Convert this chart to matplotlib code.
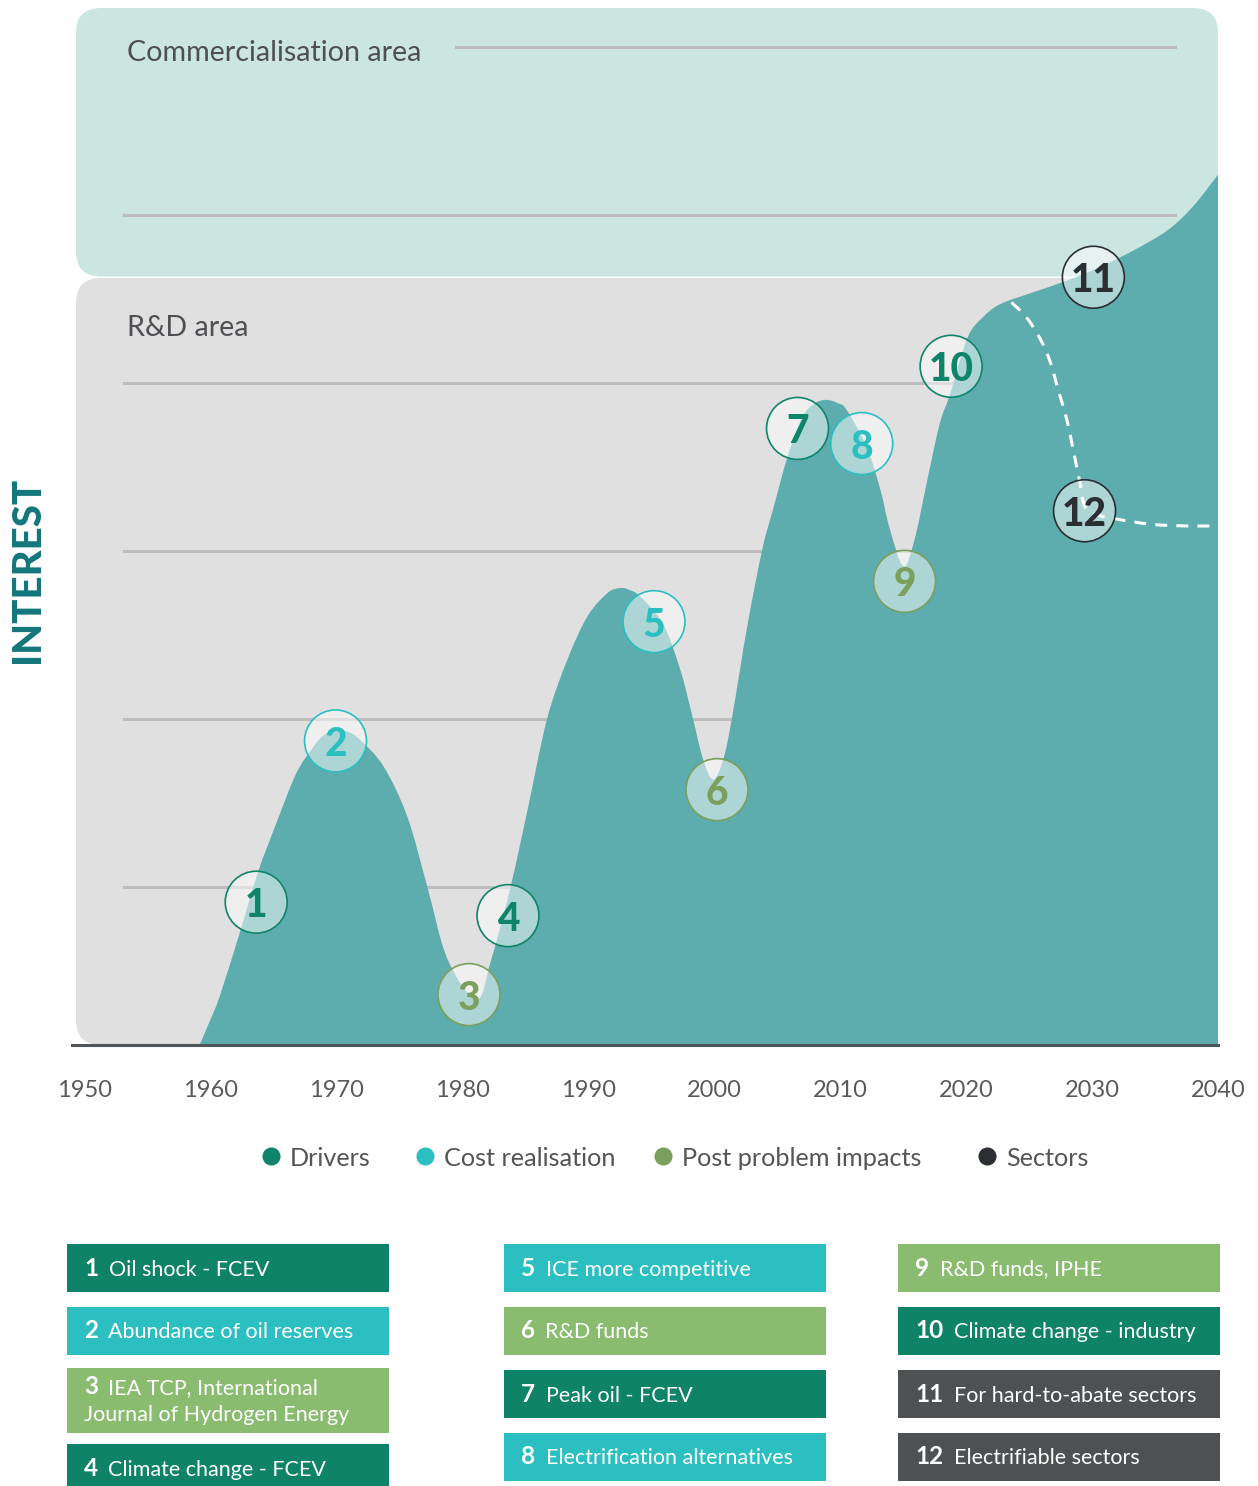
import matplotlib
import numpy as np

matplotlib.use("Agg")
import matplotlib.pyplot as plt  # noqa: E402
from matplotlib.patches import FancyBboxPatch, PathPatch, Rectangle  # noqa: E402
from matplotlib.path import Path  # noqa: E402

plt.rcParams["font.family"] = ["Lato", "DejaVu Sans"]

W, H = 1258, 1486

# ---- interest curve (year, relative interest) ----
YEARS = [1959.1, 1959.9, 1960.7, 1962.3, 1963.7, 1965.3, 1966.8, 1968.1, 1968.9,
         1970.0, 1971.0, 1971.8, 1973.7, 1975.6, 1977.2, 1978.8, 1981.1, 1982.2,
         1983.8, 1985.1, 1986.7, 1988.3, 1989.9, 1991.5, 1992.5, 1993.2, 1994.1,
         1995.9, 1997.3, 1998.3, 1999.1, 1999.9, 2000.7, 2001.4, 2002.6, 2003.8,
         2004.7, 2005.8, 2007.0, 2008.0, 2008.9, 2009.8, 2010.5, 2012.1, 2013.2,
         2013.9, 2015.0, 2015.9, 2016.9, 2017.9, 2018.7, 2020.1, 2021.3, 2022.7,
         2025.3, 2028.0, 2030.6, 2033.3, 2036.0, 2038.0, 2040.0]
INTEREST = [0.00, 0.14, 0.29, 0.67, 1.02, 1.34, 1.62, 1.77, 1.84,
            1.88, 1.86, 1.82, 1.66, 1.36, 0.94, 0.51, 0.27, 0.49,
            0.94, 1.38, 1.94, 2.29, 2.55, 2.69, 2.72, 2.71, 2.67,
            2.51, 2.23, 1.94, 1.70, 1.58, 1.70, 1.95, 2.49, 2.95,
            3.20, 3.50, 3.74, 3.82, 3.84, 3.82, 3.78, 3.56, 3.30,
            3.08, 2.85, 3.01, 3.36, 3.70, 3.87, 4.21, 4.33, 4.41,
            4.48, 4.55, 4.63, 4.73, 4.85, 4.99, 5.18]

# electrifiable-sectors branch (dashed)
SPLIT_YEARS = [2023.6, 2024.8, 2025.9, 2026.7, 2027.3, 2028.0, 2028.5, 2029.0,
               2029.4, 2030.2, 2032.0, 2034.6, 2037.2, 2040.0]
SPLIT_INTEREST = [4.42, 4.33, 4.20, 4.06, 3.90, 3.72, 3.54, 3.36,
                  3.21, 3.16, 3.13, 3.10, 3.09, 3.09]

# numbered events on the curve
EVENT_NUMBERS = list(range(1, 13))
EVENT_YEARS = [1963.6, 1969.9, 1980.5, 1983.6, 1995.2, 2000.2,
               2006.6, 2011.7, 2015.1, 2018.8, 2030.1, 2029.4]
EVENT_INTEREST = [0.85, 1.81, 0.30, 0.77, 2.52, 1.52,
                  3.67, 3.58, 2.76, 4.04, 4.57, 3.18]
EVENT_CATEGORY = ["Drivers", "Cost realisation", "Post problem impacts",
                  "Drivers", "Cost realisation", "Post problem impacts",
                  "Drivers", "Cost realisation", "Post problem impacts",
                  "Drivers", "Sectors", "Sectors"]
EVENT_LABELS = ["Oil shock - FCEV", "Abundance of oil reserves",
                "IEA TCP, International\nJournal of Hydrogen Energy",
                "Climate change - FCEV", "ICE more competitive", "R&D funds",
                "Peak oil - FCEV", "Electrification alternatives",
                "R&D funds, IPHE", "Climate change - industry",
                "For hard-to-abate sectors", "Electrifiable sectors"]

CATEGORIES = ["Drivers", "Cost realisation", "Post problem impacts", "Sectors"]
MARK_COLORS = {"Drivers": "#0E8469", "Cost realisation": "#2ABFC1",
               "Post problem impacts": "#7BA05B", "Sectors": "#2B2E33"}
BOX_COLORS = {"Drivers": "#0F8368", "Cost realisation": "#2BBFC1",
              "Post problem impacts": "#8ABC6F", "Sectors": "#4E5154"}

GRID_LEVELS = [0.94, 1.94, 2.94, 3.94, 4.94, 5.94]
TICK_YEARS = list(range(1950, 2041, 10))

TEAL = "#5DACAE"
TEXT_GREY = "#4D4F52"


def smooth_path(xs, ys, close_to=None):
    """Catmull-Rom through the points, as cubic Bezier path segments."""
    p = np.column_stack([xs, ys]).astype(float)
    ext = np.vstack([p[0], p, p[-1]])
    verts, codes = [], []
    if close_to is not None:
        verts.append((p[0, 0], close_to))
        codes.append(Path.MOVETO)
        verts.append(tuple(p[0]))
        codes.append(Path.LINETO)
    else:
        verts.append(tuple(p[0]))
        codes.append(Path.MOVETO)
    for i in range(1, len(ext) - 2):
        p0, p1, p2, p3 = ext[i - 1], ext[i], ext[i + 1], ext[i + 2]
        c1 = p1 + (p2 - p0) / 6
        c2 = p2 - (p3 - p1) / 6
        verts += [tuple(c1), tuple(c2), tuple(p2)]
        codes += [Path.CURVE4] * 3
    if close_to is not None:
        verts += [(p[-1, 0], close_to), (p[0, 0], close_to)]
        codes += [Path.LINETO, Path.CLOSEPOLY]
    return Path(verts, codes)


fig = plt.figure(figsize=(W / 100, H / 100), dpi=100)
fig.patch.set_facecolor("white")

# background / layout layer in pixel units
bg = fig.add_axes([0, 0, 1, 1], zorder=0)
bg.set_xlim(0, W)
bg.set_ylim(H, 0)
bg.axis("off")

bg.add_patch(FancyBboxPatch((76, 8), 1142, 268.5,
                            boxstyle="round,pad=0,rounding_size=25",
                            fc="#CBE6E1", ec="none"))
bg.add_patch(FancyBboxPatch((76, 278), 1142, 767,
                            boxstyle="round,pad=0,rounding_size=25",
                            fc="#E0E0E0", ec="none"))
bg.text(127, 53, "Commercialisation area", fontsize=20.6, color=TEXT_GREY,
        va="center", ha="left")
bg.text(127, 328, "R&D area", fontsize=20.6, color=TEXT_GREY,
        va="center", ha="left")
bg.text(28, 570, "INTEREST", fontsize=29, fontweight="black", color="#12767A",
        rotation=90, ha="center", va="center")

# main chart
ax = fig.add_axes([85 / W, (H - 1045) / H, 1133 / W, 1045 / H], zorder=1)
ax.set_facecolor("none")
ax.set_xlim(1950, 2040)
ax.set_ylim(0, 1045 / 168)
for s in ax.spines.values():
    s.set_visible(False)
ax.set_yticks([])

for i, lvl in enumerate(GRID_LEVELS):
    xmin = 0.3274 if i == len(GRID_LEVELS) - 1 else 0.0344
    ax.axhline(lvl, xmin=xmin, xmax=0.962, color="#BDBDBD", lw=2.2, zorder=1)

ax.add_patch(PathPatch(smooth_path(YEARS, INTEREST, close_to=0), fc=TEAL,
                       ec="none", lw=0, zorder=2))
ax.add_patch(PathPatch(smooth_path(SPLIT_YEARS, SPLIT_INTEREST), fc="none",
                       ec="white", lw=2.2, ls=(0, (3.9, 3.0)), zorder=3))
ax.axhline(0, xmin=-0.0115, xmax=1, color="#50555A", lw=2.2, clip_on=False,
           zorder=4)

cols = [MARK_COLORS[c] for c in EVENT_CATEGORY]
ax.scatter(EVENT_YEARS, EVENT_INTEREST, s=1990, facecolors=(1, 1, 1, 0.5),
           edgecolors=cols, linewidths=1.2, zorder=5)
for n, x, y, c in zip(EVENT_NUMBERS, EVENT_YEARS, EVENT_INTEREST, cols):
    ax.text(x, y, str(n), fontsize=28, fontweight="black", color=c,
            ha="center", va="center_baseline", zorder=6)

ax.set_xticks(TICK_YEARS)
ax.set_xticklabels([str(y) for y in TICK_YEARS], fontsize=17, color="#5A5A5A")
ax.tick_params(axis="x", length=0, pad=25)

# legend row
legend_x = [271, 425, 663, 987]
for x, cat in zip(legend_x, CATEGORIES):
    bg.plot(x, 1156, "o", ms=13, color=MARK_COLORS[cat], mec="none")
    bg.text(x + 19, 1157, cat, fontsize=18.2, color="#555555",
            va="center_baseline", ha="left")

# numbered key table
col_left = [67, 504, 898]
box_w = 322
col_rows = [
    [(1244, 48), (1307, 48), (1368, 65), (1444, 48)],
    [(1244, 48), (1307, 48), (1370, 48), (1433, 48)],
    [(1244, 48), (1307, 48), (1370, 48), (1433, 48)],
]
for idx, (n, label, cat) in enumerate(zip(EVENT_NUMBERS, EVENT_LABELS,
                                          EVENT_CATEGORY)):
    c, r = divmod(idx, 4)
    x0 = col_left[c]
    top, h = col_rows[c][r]
    bg.add_patch(Rectangle((x0, top), box_w, h, fc=BOX_COLORS[cat], ec="none",
                           clip_on=False))
    lines = label.split("\n")
    base = top + h / 2 + 7.5 if len(lines) == 1 else top + 26
    num = bg.text(x0 + 17, base, str(n), fontsize=17.5, fontweight="bold",
                  color="white", va="baseline", ha="left")
    bg.annotate(lines[0], xy=(1, base), xycoords=(num, "data"),
                xytext=(7.5, 0), textcoords="offset points", fontsize=15.5,
                color="white", va="baseline", ha="left")
    for k, extra in enumerate(lines[1:], start=1):
        bg.text(x0 + 17, base + 27 * k, extra, fontsize=15.5, color="white",
                va="baseline", ha="left")

fig.savefig("out.png", dpi=100)
